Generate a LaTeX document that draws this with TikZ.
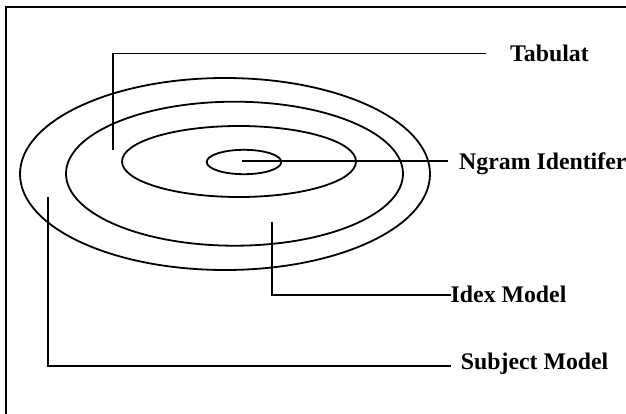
\documentclass[tikz,border=0pt]{standalone}
\usepackage{fontspec}
\setmainfont{Liberation Serif}
\begin{document}
\begin{tikzpicture}[x=1pt,y=-1pt,
  ring/.style={draw=black,line width=1.8pt},
  leader/.style={draw=black,line width=1.8pt},
  lab/.style={anchor=base west,inner sep=0pt,font=\fontsize{23.8}{28}\selectfont\bfseries}]
\useasboundingbox (0,0) rectangle (626,414);
% frame (runs off the page at right and bottom)
\draw[line width=2.4pt] (640,7) -- (6,7) -- (6,430);
% rings
\draw[ring] (225,174) ellipse [x radius=205, y radius=96];
\draw[ring] (234.5,173.7) ellipse [x radius=168.5, y radius=72];
\draw[ring] (239,161.5) ellipse [x radius=117, y radius=35.5];
\draw[ring] (244,162) ellipse [x radius=37.3, y radius=12.2];
% labels
\node[lab] (tab) at (510,61.3) {Tabulat};
\node[lab] (ngram) at (459,169.3) {Ngram Identifer};
\node[lab] (idex) at (450.5,302.7) {Idex Model};
\node[lab] (subj) at (460.7,369.7) {Subject Model};
% leader ends
\coordinate (tabS) at (113.3,150);
\coordinate (tabE) at (486,53.5);
\coordinate (ngS) at (241.7,160.8);
\coordinate (ngE) at (448,160.8);
\coordinate (idS) at (272.2,221.7);
\coordinate (idE) at (450.5,294.8);
\coordinate (suS) at (48,197);
\coordinate (suE) at (451,366);
% leaders
\draw[leader] (tabS) |- (tabE);
\draw[leader] (ngS) -- (ngE);
\draw[leader] (idS) |- (idE);
\draw[leader] (suS) |- (suE);
\end{tikzpicture}
\end{document}
